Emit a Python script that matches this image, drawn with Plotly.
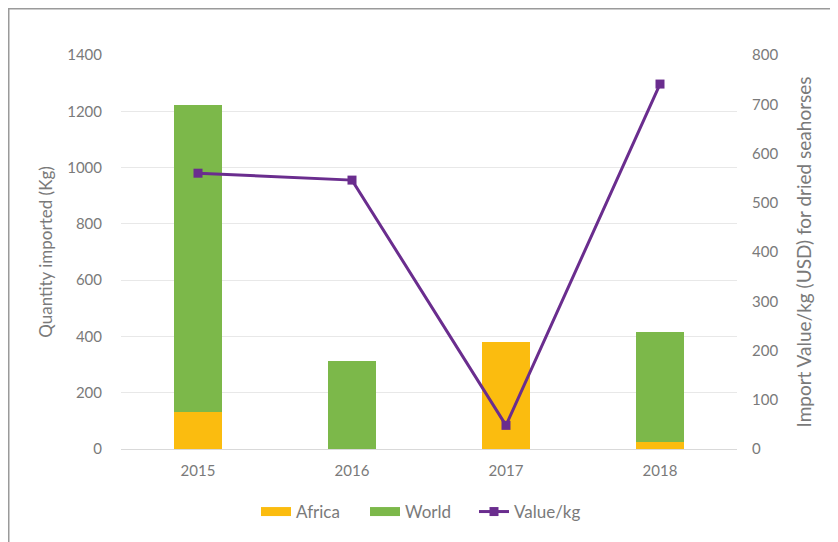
import plotly.graph_objects as go

years = ["2015", "2016", "2017", "2018"]
africa = [130, 0, 380, 25]
world = [1092, 313, 0, 391]
value_per_kg = [560, 546, 48, 741]

# page body has an 8px margin, so the figure is drawn 8px smaller and shifted
W, H = 830, 534
ml, mr, mt, mb = 113, 101, 47, 93
pw = W - ml - mr
ph = H - mt - mb

c_africa = "#FBBC0F"
c_world = "#7CB84A"
c_line = "#6A2D8E"

fig = go.Figure()
fig.add_trace(go.Bar(x=years, y=africa, name="Africa", marker_color=c_africa, marker_line_width=0,
                     showlegend=False, legendgroup="a"))
fig.add_trace(go.Bar(x=years, y=world, name="World", marker_color=c_world, marker_line_width=0,
                     showlegend=False, legendgroup="w"))
# legend proxies (wide rectangle swatches like the reference)
fig.add_trace(go.Scatter(x=[None], y=[None], mode="lines", name="Africa", legendgroup="a",
                         line=dict(color=c_africa, width=9)))
fig.add_trace(go.Scatter(x=[None], y=[None], mode="lines", name="World", legendgroup="w",
                         line=dict(color=c_world, width=9)))
fig.add_trace(go.Scatter(x=years, y=value_per_kg, name="Value/kg", yaxis="y2", mode="lines+markers",
                         line=dict(color=c_line, width=3),
                         marker=dict(symbol="square", size=9, color=c_line)))

def px_x(x):
    return (x - ml) / pw

def px_y(y):
    return (H - mb - y) / ph

fig.add_shape(type="rect", xref="paper", yref="paper",
              x0=px_x(0.75), x1=px_x(840), y0=px_y(540), y1=px_y(0.75),
              line=dict(color="#9a9a9a", width=1.5), fillcolor="rgba(0,0,0,0)", layer="below")

txt = "#7a7a7a"
font = dict(family="Lato, Open Sans, sans-serif", size=15, color=txt)
fig.update_layout(
    width=W, height=H,
    margin=dict(l=ml, r=mr, t=mt, b=mb),
    barmode="stack", bargap=0.69,
    plot_bgcolor="white", paper_bgcolor="white",
    font=font,
    showlegend=True,
    legend=dict(orientation="h", x=px_x(248), xanchor="left", y=px_y(504), yanchor="middle",
                font=dict(size=17, color=txt), traceorder="normal", itemwidth=30,
                entrywidth=64, entrywidthmode="pixels"),
    xaxis=dict(showgrid=False, showline=True, linecolor="#d9d9d9", linewidth=1,
               ticks="", ticklabelstandoff=8, tickfont=dict(size=15, color=txt)),
    yaxis=dict(range=[0, 1400], dtick=200, showgrid=True, gridcolor="#e8e8e8", gridwidth=1,
               zeroline=False, ticks="", ticklabelstandoff=18, tickfont=dict(size=15, color=txt),
               title=dict(text="Quantity imported (Kg)", font=dict(size=17, color=txt), standoff=10)),
    yaxis2=dict(range=[0, 800], dtick=100, overlaying="y", side="right", showgrid=False,
                zeroline=False, ticks="", ticklabelstandoff=14, tickfont=dict(size=15, color=txt),
                title=dict(text="Import Value/kg (USD) for dried seahorses",
                           font=dict(size=19, color=txt), standoff=20)),
)

fig.write_html("out.html")
